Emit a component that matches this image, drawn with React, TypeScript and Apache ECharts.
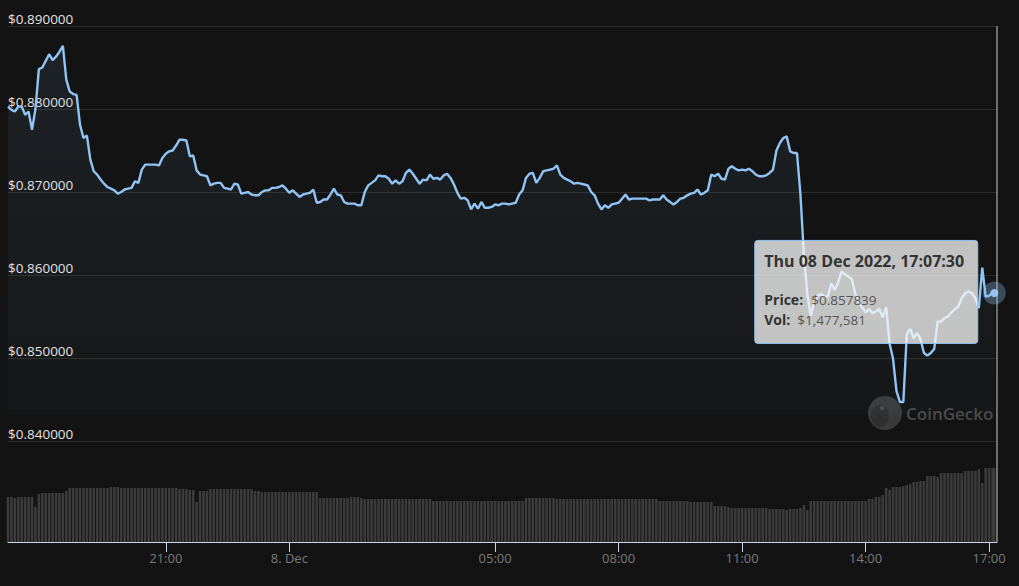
import React, { useEffect, useRef } from "react";
import * as echarts from "echarts";

// ---- Data ----
const startTime = Date.UTC(2022, 11, 7, 17, 10, 0);
const stepMs = 5 * 60 * 1000;
const lastTime = Date.UTC(2022, 11, 8, 17, 7, 30);
const axisMin = Date.UTC(2022, 11, 7, 17, 10, 0);
const axisMax = Date.UTC(2022, 11, 8, 17, 11, 30);

const prices: number[] = [
  0.8803, 0.8799, 0.8797, 0.8803, 0.8803, 0.8793, 0.8797, 0.8775, 0.88, 0.8848,
  0.885, 0.8858, 0.8866, 0.8859, 0.8863, 0.8869, 0.8876, 0.8835, 0.8821, 0.8818,
  0.8817, 0.8781, 0.8765, 0.8768, 0.8739, 0.8725, 0.8721, 0.8715, 0.871, 0.8706,
  0.8704, 0.8702, 0.8698, 0.87, 0.8703, 0.8704, 0.8705, 0.8713, 0.8711, 0.8727,
  0.8733, 0.8733, 0.8733, 0.8733, 0.8732, 0.8741, 0.8746, 0.8749, 0.875, 0.8756,
  0.8763, 0.8763, 0.8762, 0.8743, 0.8744, 0.8726, 0.8721, 0.872, 0.8719, 0.8708,
  0.871, 0.8711, 0.8711, 0.8705, 0.8704, 0.8703, 0.871, 0.8709, 0.8698, 0.8699,
  0.87, 0.8697, 0.8696, 0.8696, 0.87, 0.8702, 0.8702, 0.8705, 0.8705, 0.8706,
  0.8708, 0.8704, 0.8699, 0.8702, 0.8698, 0.8694, 0.8697, 0.8698, 0.8699, 0.8703,
  0.8687, 0.8688, 0.8691, 0.8691, 0.8697, 0.8704, 0.8697, 0.8696, 0.8688, 0.8686,
  0.8686, 0.8686, 0.8684, 0.8684, 0.87, 0.8708, 0.8711, 0.8714, 0.872, 0.8719,
  0.8719, 0.8716, 0.871, 0.8714, 0.871, 0.8713, 0.8723, 0.8727, 0.8722, 0.8716,
  0.871, 0.8715, 0.8714, 0.8721, 0.8716, 0.8717, 0.8715, 0.872, 0.8722, 0.8717,
  0.8709, 0.8699, 0.8692, 0.8693, 0.869, 0.8679, 0.8686, 0.868, 0.8688, 0.8681,
  0.8681, 0.8682, 0.8685, 0.8684, 0.8686, 0.8686, 0.8685, 0.8686, 0.8687, 0.8697,
  0.8702, 0.8717, 0.8722, 0.8723, 0.8711, 0.8717, 0.8725, 0.8726, 0.8727, 0.8728,
  0.8732, 0.8721, 0.8717, 0.8715, 0.8713, 0.871, 0.8711, 0.871, 0.8709, 0.8708,
  0.87, 0.8696, 0.8686, 0.8679, 0.8684, 0.8681, 0.8685, 0.8686, 0.8687, 0.8692,
  0.8697, 0.8691, 0.8692, 0.8692, 0.8692, 0.8692, 0.8692, 0.869, 0.8691, 0.8691,
  0.8691, 0.8696, 0.8691, 0.8688, 0.8685, 0.8688, 0.8692, 0.8693, 0.8696, 0.8698,
  0.8699, 0.8703, 0.8697, 0.8699, 0.8702, 0.8721, 0.8719, 0.8722, 0.8716, 0.8715,
  0.8728, 0.8731, 0.8728, 0.8726, 0.8727, 0.8726, 0.8728, 0.8725, 0.8721, 0.8719,
  0.8719, 0.872, 0.8723, 0.8727, 0.875, 0.8759, 0.8765, 0.8767, 0.8749, 0.8747,
  0.8747, 0.8697, 0.8625, 0.8577, 0.8551, 0.8567, 0.8575, 0.8577, 0.8574, 0.8574,
  0.859, 0.8582, 0.8591, 0.8604, 0.8601, 0.8598, 0.8595, 0.8577, 0.8567, 0.8561,
  0.8555, 0.8559, 0.8554, 0.8556, 0.8559, 0.8549, 0.8561, 0.8517, 0.8499, 0.846,
  0.8447, 0.8447, 0.8529, 0.8535, 0.8524, 0.853, 0.8523, 0.8506, 0.8503, 0.8506,
  0.8511, 0.8544, 0.8544, 0.8548, 0.855, 0.8555, 0.8559, 0.8562, 0.8572, 0.8578,
  0.858, 0.8578, 0.8572, 0.856, 0.8609, 0.8574, 0.8575, 0.8579, 0.857839,
];

const volumes: number[] = [
  900000, 900000, 880000, 900000, 900000, 900000, 900000, 900000, 700000, 960000,
  980000, 980000, 980000, 980000, 980000, 980000, 980000, 1020000, 1080000, 1080000,
  1080000, 1080000, 1080000, 1080000, 1080000, 1080000, 1080000, 1080000, 1080000, 1080000,
  1100000, 1100000, 1100000, 1080000, 1080000, 1080000, 1080000, 1080000, 1080000, 1080000,
  1080000, 1080000, 1080000, 1080000, 1080000, 1080000, 1080000, 1080000, 1080000, 1080000,
  1060000, 1060000, 1060000, 1040000, 1040000, 800000, 1020000, 1020000, 1020000, 1060000,
  1060000, 1060000, 1060000, 1060000, 1060000, 1060000, 1060000, 1060000, 1060000, 1060000,
  1060000, 1060000, 1020000, 1020000, 1000000, 1000000, 1000000, 1000000, 1000000, 1000000,
  1000000, 1000000, 1000000, 1000000, 1000000, 1000000, 1000000, 1000000, 1000000, 1000000,
  1000000, 880000, 880000, 880000, 880000, 880000, 880000, 880000, 880000, 880000,
  900000, 900000, 900000, 880000, 860000, 860000, 860000, 860000, 860000, 860000,
  860000, 860000, 860000, 860000, 860000, 860000, 860000, 860000, 860000, 860000,
  860000, 860000, 860000, 860000, 820000, 820000, 820000, 820000, 820000, 820000,
  820000, 820000, 820000, 820000, 820000, 820000, 820000, 820000, 820000, 820000,
  820000, 820000, 820000, 820000, 820000, 820000, 820000, 820000, 820000, 820000,
  820000, 880000, 880000, 880000, 880000, 880000, 880000, 880000, 880000, 880000,
  860000, 860000, 860000, 860000, 860000, 860000, 860000, 860000, 860000, 860000,
  860000, 860000, 860000, 860000, 860000, 860000, 860000, 860000, 860000, 860000,
  860000, 860000, 860000, 860000, 860000, 860000, 860000, 860000, 860000, 860000,
  820000, 820000, 820000, 820000, 820000, 820000, 820000, 820000, 820000, 800000,
  800000, 800000, 800000, 800000, 800000, 800000, 720000, 720000, 720000, 720000,
  700000, 680000, 680000, 680000, 680000, 680000, 680000, 680000, 680000, 680000,
  680000, 680000, 660000, 660000, 660000, 660000, 660000, 640000, 660000, 660000,
  660000, 680000, 740000, 640000, 820000, 820000, 820000, 820000, 820000, 820000,
  820000, 820000, 820000, 820000, 820000, 820000, 820000, 820000, 820000, 820000,
  820000, 860000, 860000, 900000, 900000, 940000, 1080000, 1040000, 1100000, 1100000,
  1100000, 1120000, 1140000, 1160000, 1200000, 1200000, 1220000, 1220000, 1320000, 1320000,
  1320000, 1300000, 1380000, 1380000, 1380000, 1380000, 1380000, 1380000, 1380000, 1420000,
  1420000, 1420000, 1420000, 1460000, 1180000, 1480000, 1480000, 1480000, 1477581,
];

const tickTimes: number[] = [
  Date.UTC(2022, 11, 7, 21, 0),
  Date.UTC(2022, 11, 8, 0, 0),
  Date.UTC(2022, 11, 8, 5, 0),
  Date.UTC(2022, 11, 8, 8, 0),
  Date.UTC(2022, 11, 8, 11, 0),
  Date.UTC(2022, 11, 8, 14, 0),
  Date.UTC(2022, 11, 8, 17, 0),
];
const tickLabels: string[] = ["21:00", "8. Dec", "05:00", "08:00", "11:00", "14:00", "17:00"];
const priceTicks = { min: 0.84, max: 0.89, step: 0.01 };
const volumeMax = 2000000;

const times: number[] = prices.map((_, i) =>
  i === prices.length - 1 ? lastTime : startTime + i * stepMs
);

const FONT = '"Open Sans", "Noto Sans", sans-serif';
const LINE = "#8fc4f5";

function pad(n: number) {
  return n < 10 ? "0" + n : String(n);
}
function fmtTitle(t: number) {
  const d = new Date(t);
  const days = ["Sun", "Mon", "Tue", "Wed", "Thu", "Fri", "Sat"];
  const mons = ["Jan", "Feb", "Mar", "Apr", "May", "Jun", "Jul", "Aug", "Sep", "Oct", "Nov", "Dec"];
  return `${days[d.getUTCDay()]} ${pad(d.getUTCDate())} ${mons[d.getUTCMonth()]} ${d.getUTCFullYear()}, ${pad(
    d.getUTCHours()
  )}:${pad(d.getUTCMinutes())}:${pad(d.getUTCSeconds())}`;
}

const watermark = {
  type: "group",
  silent: true,
  children: [
    { type: "circle", z: 1, shape: { cx: 885, cy: 413, r: 17 }, style: { fill: "#3a3a3a" } },
    { type: "ellipse", z: 1, shape: { cx: 880, cy: 416, rx: 9, ry: 11 }, style: { fill: "#2f2f2f" } },
    { type: "circle", z: 1, shape: { cx: 882, cy: 408, r: 2.2 }, style: { fill: "#4a4a4a" } },
    {
      type: "text",
      z: 1,
      x: 906,
      y: 413,
      style: {
        text: "CoinGecko",
        fill: "#4a4a4a",
        fontSize: 17,
        fontFamily: FONT,
        fontWeight: 600,
        verticalAlign: "middle",
      },
    },
  ],
};

export default function App() {
  const ref = useRef<HTMLDivElement>(null);

  useEffect(() => {
    document.body.style.margin = "0";
    document.body.style.background = "#131313";
    if (!ref.current) return;
    const chart = echarts.init(ref.current, undefined, { renderer: "svg" });

    const lastPrice = prices[prices.length - 1];
    const lastVol = volumes[volumes.length - 1];

    const option: any = {
      animation: false,
      backgroundColor: "#131313",
      textStyle: { fontFamily: FONT },
      grid: [
        { left: 8, right: 22, top: 26, bottom: 145 },
        { left: 8, right: 22, top: 442, bottom: 44 },
      ],
      xAxis: [
        { type: "value", gridIndex: 0, min: axisMin, max: axisMax, show: false },
        {
          type: "value",
          gridIndex: 1,
          min: axisMin,
          max: axisMax,
          axisLine: { show: true, onZero: false, lineStyle: { color: "#ccd6eb", width: 1 } },
          axisTick: {
            show: true,
            length: 10,
            customValues: tickTimes,
            lineStyle: { color: "#ccd6eb" },
          },
          axisLabel: {
            customValues: tickTimes,
            color: "#7a7a7a",
            fontSize: 13,
            fontFamily: FONT,
            margin: 9,
            hideOverlap: false,
            formatter: (v: number) => {
              const idx = tickTimes.indexOf(v);
              return idx >= 0 ? tickLabels[idx] : "";
            },
          },
          splitLine: { show: false },
        },
      ],
      yAxis: [
        {
          type: "value",
          gridIndex: 0,
          min: priceTicks.min,
          max: priceTicks.max,
          interval: priceTicks.step,
          axisLine: { show: false },
          axisTick: { show: false },
          axisLabel: {
            inside: true,
            margin: 0,
            verticalAlign: "bottom",
            color: "#e2e2e2",
            fontSize: 13.5,
            fontFamily: FONT,
            formatter: (v: number) => "$" + v.toFixed(6),
          },
          splitLine: { show: true, lineStyle: { color: "#2c2c2c", width: 1 } },
        },
        { type: "value", gridIndex: 1, min: 0, max: volumeMax, show: false },
      ],
      series: [
        {
          type: "bar",
          xAxisIndex: 1,
          yAxisIndex: 1,
          silent: true,
          barWidth: 2.6,
          data: times.map((t, i) => [t, volumes[i]]),
          itemStyle: { color: "#3b3b3b" },
        },
        {
          type: "line",
          xAxisIndex: 0,
          yAxisIndex: 0,
          symbol: "none",
          silent: true,
          z: 3,
          data: times.map((t, i) => [t, prices[i]]),
          lineStyle: { color: LINE, width: 2.4 },
          areaStyle: {
            origin: 0.8432,
            color: new echarts.graphic.LinearGradient(0, 0, 0, 1, [
              { offset: 0, color: "rgba(143,196,245,0.12)" },
              { offset: 1, color: "rgba(143,196,245,0.03)" },
            ]),
          },
          markPoint: {
            silent: true,
            label: { show: false },
            data: [
              {
                coord: [lastTime, lastPrice],
                symbol: "circle",
                symbolSize: 23,
                itemStyle: { color: "rgba(143,196,245,0.32)" },
              },
              {
                coord: [lastTime, lastPrice],
                symbol: "circle",
                symbolSize: 8,
                itemStyle: { color: LINE },
              },
            ],
          },
        },
      ],
      graphic: [watermark],
    };

    chart.setOption(option);

    // Hover decorations placed through the chart's own scales
    const p = chart.convertToPixel({ xAxisIndex: 0, yAxisIndex: 0 }, [lastTime, lastPrice]) as number[];
    const xr = chart.convertToPixel({ xAxisIndex: 0 }, axisMax) as number;
    const yTop = chart.convertToPixel({ yAxisIndex: 0 }, priceTicks.max) as number;
    const yBottom = chart.convertToPixel({ yAxisIndex: 1 }, 0) as number;
    const bx = (p && p[0] ? p[0] : 994) - 240;
    const by = (p && p[1] ? p[1] : 293) - 53;
    const Z = 200;

    chart.setOption({
      graphic: [
        watermark,
        {
          type: "line",
          z: 50,
          silent: true,
          shape: { x1: xr, y1: yTop, x2: xr, y2: yBottom },
          style: { stroke: "#c8c8c8", lineWidth: 1 },
        },
        {
          type: "group",
          x: bx,
          y: by,
          silent: true,
          children: [
            {
              type: "rect",
              z: Z,
              shape: { x: 0.5, y: 0.5, width: 223, height: 103, r: 3 },
              style: { fill: "rgba(247,247,247,0.77)", stroke: LINE, lineWidth: 1 },
            },
            {
              type: "text",
              z: Z + 1,
              x: 10,
              y: 21,
              style: {
                text: fmtTitle(lastTime),
                fill: "#333333",
                fontSize: 16,
                fontWeight: "bold",
                fontFamily: FONT,
                verticalAlign: "middle",
              },
            },
            {
              type: "text",
              z: Z + 1,
              x: 10,
              y: 60,
              style: { text: "Price:", fill: "#333333", fontSize: 14, fontWeight: "bold", fontFamily: FONT, verticalAlign: "middle" },
            },
            {
              type: "text",
              z: Z + 1,
              x: 57,
              y: 60,
              style: { text: "$" + lastPrice.toFixed(6), fill: "#555555", fontSize: 13.5, fontFamily: FONT, verticalAlign: "middle" },
            },
            {
              type: "text",
              z: Z + 1,
              x: 10,
              y: 80,
              style: { text: "Vol:", fill: "#333333", fontSize: 14, fontWeight: "bold", fontFamily: FONT, verticalAlign: "middle" },
            },
            {
              type: "text",
              z: Z + 1,
              x: 43,
              y: 80,
              style: {
                text: "$" + lastVol.toLocaleString("en-US"),
                fill: "#555555",
                fontSize: 13.5,
                fontFamily: FONT,
                verticalAlign: "middle",
              },
            },
          ],
        },
      ],
    });

    return () => chart.dispose();
  }, []);

  return (
    <div
      ref={ref}
      style={{ position: "fixed", left: 0, top: 0, width: 1019, height: 586, background: "#131313" }}
    />
  );
}
